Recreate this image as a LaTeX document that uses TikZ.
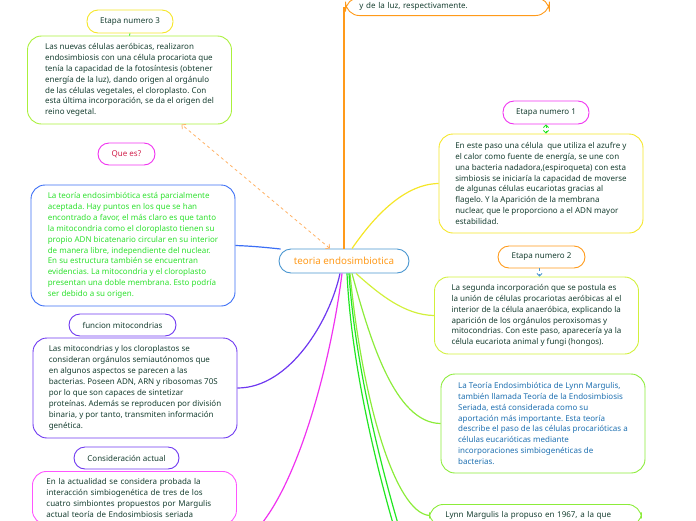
\documentclass[tikz,border=0pt]{standalone}
\usepackage{fontspec}
\setmainfont{Noto Sans}
\usetikzlibrary{arrows.meta}
\frenchspacing
\definecolor{darktext}{RGB}{22,62,48}
\definecolor{orangeA}{RGB}{255,154,26}
\definecolor{orangeL}{RGB}{255,178,102}
\definecolor{yellowA}{RGB}{245,230,40}
\definecolor{limeA}{RGB}{170,240,60}
\definecolor{limeB}{RGB}{210,240,60}
\definecolor{limeC}{RGB}{140,236,58}
\definecolor{greenA}{RGB}{34,230,34}
\definecolor{greenT}{RGB}{45,224,45}
\definecolor{blueA}{RGB}{59,110,245}
\definecolor{blueT}{RGB}{29,111,176}
\definecolor{skyA}{RGB}{74,150,208}
\definecolor{purpleA}{RGB}{110,56,240}
\definecolor{magentaA}{RGB}{240,50,240}
\definecolor{pinkA}{RGB}{255,85,255}
\definecolor{crimsonT}{RGB}{208,31,74}
\tikzset{
  box/.style={draw, rounded corners=14pt, line width=0.9pt, align=left, minimum width=204pt,
    inner xsep=0pt, inner ysep=6pt, text=darktext, font=\fontsize{8}{10.9}\selectfont},
  tag/.style={draw, rounded corners=11pt, line width=0.9pt, text=darktext,
    font=\fontsize{8}{9}\selectfont, inner sep=0pt},
  link/.style={line width=1.2pt},
}
\begin{document}
\begin{tikzpicture}[x=1pt, y=-1pt]
  \useasboundingbox (0,0) rectangle (696,520);
  \clip (0,0) rectangle (696,520);

  \node[box, draw=orangeA, anchor=south west, text width=176pt, inner xsep=14pt, inner ysep=5pt] (topbox) at (345,16) {y de la luz, respectivamente.};

  \node[tag, draw=yellowA, minimum width=86pt, minimum height=23pt] (et3) at (130,21.5) {Etapa numero 3};
  \node[box, draw=limeA, minimum height=88pt] (s3) at (129.5,80) {Las nuevas células aeróbicas, realizaron\\endosimbiosis con una célula procariota que\\tenía la capacidad de la fotosíntesis (obtener\\energía de la luz), dando origen al orgánulo\\de las células vegetales, el cloroplasto. Con\\esta última incorporación, se da el origen del\\reino vegetal.};
  \node[tag, draw=magentaA, text=crimsonT, minimum width=57pt, minimum height=22pt] (quees) at (126.5,154) {Que es?};
  \node[box, draw=blueA, text=greenT, minimum height=121pt] (def) at (133,245.5) {La teoría endosimbiótica está parcialmente\\aceptada. Hay puntos en los que se han\\encontrado a favor, el más claro es que tanto\\la mitocondria como el cloroplasto tienen su\\propio ADN bicatenario circular en su interior\\de manera libre, independiente del nuclear.\\En su estructura también se encuentran\\evidencias. La mitocondria y el cloroplasto\\presentan una doble membrana. Esto podría\\ser debido a su origen.};
  \node[tag, draw=purpleA, minimum width=107pt, minimum height=22pt] (funmit) at (122.5,325) {funcion mitocondrias};
  \node[box, draw=purpleA, minimum height=100pt] (mito) at (135,388) {Las mitocondrias y los cloroplastos se\\consideran orgánulos semiautónomos que\\en algunos aspectos se parecen a las\\bacterias. Poseen ADN, ARN y ribosomas 70S\\por lo que son capaces de sintetizar\\proteínas. Además se reproducen por división\\binaria, y por tanto, transmiten información\\genética.};
  \node[tag, draw=purpleA, minimum width=105pt, minimum height=22pt] (consid) at (126.5,458) {Consideración actual};
  \node[box, draw=pinkA, anchor=north west, text width=176pt, inner xsep=14pt, inner ysep=7pt] (actual) at (32,471) {En la actualidad se considera probada la\\interacción simbiogenética de tres de los\\cuatro simbiontes propuestos por Margulis\\actual teoría de Endosimbiosis seriada\\ };

  \node[draw=skyA, rounded corners=12pt, line width=0.9pt, text=orangeA, font=\fontsize{9.8}{11}\selectfont,
    minimum width=130pt, minimum height=24pt, inner sep=0pt] (central) at (344,261) {teoria endosimbiotica};

  \node[tag, draw=magentaA, minimum width=86pt, minimum height=23pt] (et1) at (546,112.5) {Etapa numero 1};
  \node[box, draw=yellowA, minimum height=99pt] (s1) at (541,183.5) {En este paso una célula\ \ que utiliza el azufre y\\el calor como fuente de energía, se une con\\una bacteria nadadora,(espiroqueta) con esta\\simbiosis se iniciaría la capacidad de moverse\\de algunas células eucariotas gracias al\\flagelo. Y la Aparición de la membrana\\nuclear, que le proporciono a el ADN mayor\\estabilidad.};
  \node[tag, draw=orangeA, minimum width=87pt, minimum height=22pt] (et2) at (541.5,257) {Etapa numero 2};
  \node[box, draw=limeB, minimum height=77pt] (s2) at (536.5,315.5) {La segunda incorporación que se postula es\\la unión de células procariotas aeróbicas al el\\interior de la célula anaeróbica, explicando la\\aparición de los orgánulos peroxisomas y\\mitocondrias. Con este paso, aparecería ya la\\célula eucariota animal y fungi (hongos).};
  \node[box, draw=limeC, text=blueT, minimum height=99pt] (lynn) at (543,423.5) {La Teoría Endosimbiótica de Lynn Margulis,\\también llamada Teoría de la Endosimbiosis\\Seriada, está considerada como su\\aportación más importante. Esta teoría\\describe el paso de las células procarióticas a\\células eucarióticas mediante\\incorporaciones simbiogenéticas de\\bacterias.};
  \node[box, draw=limeC, anchor=north west, text width=180pt, inner xsep=16pt, inner ysep=7pt] (prop) at (429,504) {Lynn Margulis la propuso en 1967, a la que};

  \coordinate (actualin) at (236,546);
  \coordinate (offa) at (404,560);
  \coordinate (offb) at (409,560);
  \coordinate (et2foot) at ([xshift=-2pt]et2.south);

  \draw[link, orangeA, line width=1.6pt] (central.north) -- (central.north |- topbox.west);
  \draw[orangeL, line width=0.8pt, dashed, {Straight Barb[length=3pt]}-{Straight Barb[length=3pt]}] ([xshift=-14pt]central.north) -- ([xshift=52pt]s3.south);
  \draw[link, blueA] ([xshift=2pt,yshift=12pt]central.west) .. controls (262,247) and (250,246) .. (def.east);
  \draw[link, yellowA] ([xshift=8pt]central.north) .. controls (375,215) and (405,184) .. (s1.west);
  \draw[link, limeB] ([xshift=12pt]central.south) .. controls (380,295) and (405,315) .. (s2.west);
  \draw[link, limeC] ([xshift=8pt]central.south) .. controls (370,340) and (395,423) .. (lynn.west);
  \draw[link, limeC] ([xshift=6pt]central.south) .. controls (362,400) and (395,512) .. (prop.west);
  \draw[link, greenA] ([xshift=3pt]central.south) .. controls (352,380) and (385,500) .. (offa);
  \draw[link, greenA] ([xshift=5pt]central.south) .. controls (356,380) and (390,500) .. (offb);
  \draw[link, purpleA] ([xshift=-4pt]central.south) .. controls (330,320) and (290,388) .. (mito.east);
  \draw[link, magentaA] ([xshift=-2pt]central.south) .. controls (330,370) and (290,520) .. (actualin);

  \draw[greenA, line width=0.8pt] (et3.south) -- (s3.north);
  \draw[greenA, line width=0.8pt, dashed, {Straight Barb[length=2.5pt]}-{Straight Barb[length=2.5pt]}] (et1.south) -- (s1.north -| et1.south);
  \draw[skyA, line width=0.8pt, dashed, -{Straight Barb[length=2.5pt]}] (et2foot) -- (s2.north -| et2foot);
\end{tikzpicture}
\end{document}
